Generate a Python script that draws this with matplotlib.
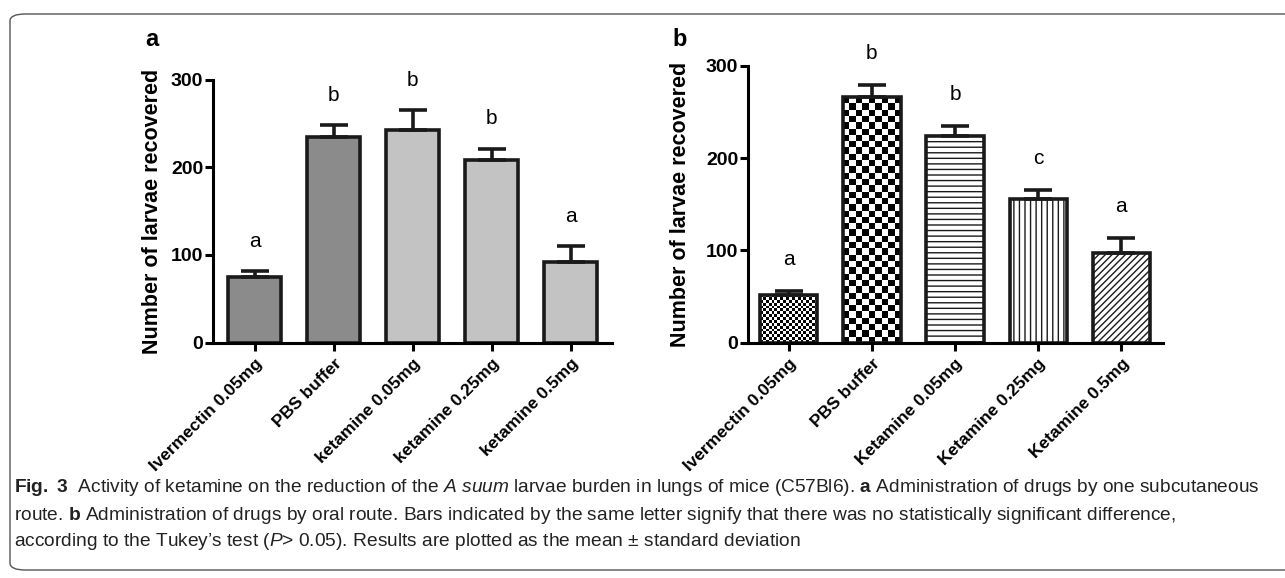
import numpy as np
import matplotlib
matplotlib.use("Agg")
from matplotlib import pyplot as plt
from matplotlib.patches import FancyBboxPatch

plt.rcParams['font.family'] = ['Liberation Sans', 'DejaVu Sans']
plt.rcParams['mathtext.fontset'] = 'custom'
plt.rcParams['mathtext.rm'] = 'Liberation Sans'
plt.rcParams['mathtext.it'] = 'Liberation Sans:italic'
plt.rcParams['mathtext.bf'] = 'Liberation Sans:bold'
plt.rcParams['hatch.linewidth'] = 1.0

# panel a: subcutaneous route
labels_a = ["Ivermectin 0.05mg", "PBS buffer", "ketamine 0.05mg",
            "ketamine 0.25mg", "ketamine 0.5mg"]
mean_a = [75, 234, 242, 208, 92]
sd_a = [6, 14, 23, 13, 18]
letters_a = ["a", "b", "b", "b", "a"]

# panel b: oral route
labels_b = ["Ivermectin 0.05mg", "PBS buffer", "Ketamine 0.05mg",
            "Ketamine 0.25mg", "Ketamine 0.5mg"]
mean_b = [52, 266, 224, 156, 97]
sd_b = [4, 13, 11, 9, 16]
letters_b = ["a", "b", "b", "c", "a"]

fig = plt.figure(figsize=(12.85, 5.78), dpi=100)

# rounded frame around the figure
frame = FancyBboxPatch((10 / 1285, 8 / 578), 1.2, 1 - 22 / 578,
                       boxstyle="round,pad=0,rounding_size=0.012",
                       transform=fig.transFigure, fill=False,
                       edgecolor="#555555", linewidth=1.0, clip_on=False)
fig.patches.append(frame)


def style_axes(ax, label_x):
    for s in ["top", "right"]:
        ax.spines[s].set_visible(False)
    for s in ["left", "bottom"]:
        ax.spines[s].set_linewidth(2.2)
    ax.tick_params(axis="both", width=2.2, length=6, direction="out")
    ax.set_ylim(0, 300)
    ax.set_yticks([0, 100, 200, 300])
    for t in ax.get_yticklabels():
        t.set_fontweight("bold")
        t.set_fontsize(14)
    ax.tick_params(axis="y", pad=1)
    ax.set_ylabel("Number of larvae recovered", fontsize=15.5,
                  fontweight="bold")
    ax.yaxis.set_label_coords(label_x, 0.5)


def draw_letters(ax, x, mean, sd, letters, offset):
    for xi, m, s, l in zip(x, mean, sd, letters):
        ax.text(xi, m + s + offset, l, ha="center", va="center",
                fontsize=15, clip_on=False)


def set_xlabels(ax, x, labels):
    ax.set_xticks(x)
    ax.set_xticklabels(labels, rotation=45, ha="right",
                       rotation_mode="anchor", fontsize=12.5, fontweight="bold")


def checker(ax, bar, ncols, zorder=1):
    # checkerboard fill clipped to the bar outline
    x0 = bar.get_x()
    w = bar.get_width()
    h = bar.get_height()
    p0 = ax.transData.transform((x0, 0))
    p1 = ax.transData.transform((x0 + w, h))
    wpx = abs(p1[0] - p0[0])
    hpx = abs(p1[1] - p0[1])
    nrows = int(round(ncols * hpx / wpx))
    img = (np.add.outer(np.arange(nrows), np.arange(ncols)) % 2).astype(float)
    im = ax.imshow(img, cmap="gray", extent=(x0, x0 + w, 0, h),
                   aspect="auto", interpolation="nearest", zorder=zorder)
    im.set_clip_path(bar)


# ---- panel a ----
ax1 = fig.add_axes([213 / 1285, 1 - 342.5 / 578, 399 / 1285, 263 / 578])
x = np.arange(len(labels_a))
cols_a = ["#8b8b8b", "#8b8b8b", "#c3c3c3", "#c3c3c3", "#c3c3c3"]
ax1.bar(x, mean_a, width=0.67, color=cols_a, edgecolor="#1a1a1a",
        linewidth=2.6, zorder=2)
ax1.errorbar(x, mean_a, yerr=[np.zeros(len(sd_a)), sd_a], fmt="none",
             ecolor="#1a1a1a", elinewidth=2.6, capsize=10, capthick=2.6,
             zorder=3)
ax1.set_xlim(-0.53, 4.52)
style_axes(ax1, -0.125)
set_xlabels(ax1, x, labels_a)
draw_letters(ax1, x, mean_a, sd_a, letters_a, 34)
fig.text(152 / 1285, 1 - 40 / 578, "a", fontsize=17, fontweight="bold",
         ha="center", va="center")

# ---- panel b ----
ax2 = fig.add_axes([748 / 1285, 1 - 342.7 / 578, 415 / 1285, 277 / 578])
x = np.arange(len(labels_b))
ax2.set_xlim(-0.49, 4.5)
ax2.set_ylim(0, 300)
bars = ax2.bar(x, mean_b, width=0.69, facecolor="none", edgecolor="#1a1a1a",
               linewidth=2.6, zorder=2)
ax2.errorbar(x, mean_b, yerr=[np.zeros(len(sd_b)), sd_b], fmt="none",
             ecolor="#1a1a1a", elinewidth=2.6, capsize=10, capthick=2.6,
             zorder=3)
style_axes(ax2, -0.137)
checker(ax2, bars[0], 20)
checker(ax2, bars[1], 9)
bars[2].set_hatch("---")
bars[3].set_hatch("|||")
bars[4].set_hatch("/////")
set_xlabels(ax2, x, labels_b)
draw_letters(ax2, x, mean_b, sd_b, letters_b, 34)
fig.text(680 / 1285, 1 - 40 / 578, "b", fontsize=17, fontweight="bold",
         ha="center", va="center")

# ---- caption ----
cap_size = 13.8
fig.text(14 / 1285, 1 - 488 / 578,
         r"$\mathbf{Fig.\ 3}$  Activity of ketamine on the reduction of the "
         r"$\mathit{A\ suum}$ larvae burden in lungs of mice (C57Bl6). "
         r"$\mathbf{a}$ Administration of drugs by one subcutaneous",
         fontsize=cap_size, va="center", color="#222222")
fig.text(14 / 1285, 1 - 515 / 578,
         r"route. $\mathbf{b}$ Administration of drugs by oral route. Bars "
         r"indicated by the same letter signify that there was no statistically "
         r"significant difference,",
         fontsize=cap_size, va="center", color="#222222")
fig.text(14 / 1285, 1 - 542 / 578,
         "according to the Tukey\u2019s test ($\\mathit{P}$\u02c3 0.05). "
         "Results are plotted as the mean \u00b1 standard deviation",
         fontsize=cap_size, va="center", color="#222222")

fig.savefig("out.png", dpi=100)
